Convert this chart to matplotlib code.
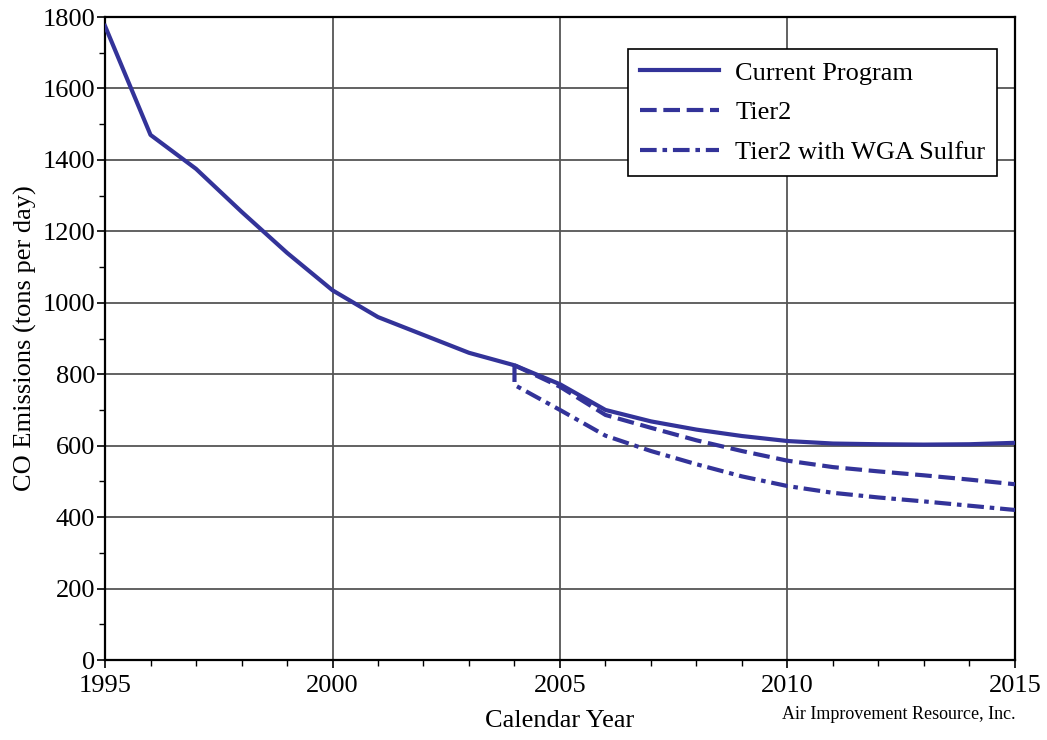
import matplotlib
matplotlib.use("Agg")
import matplotlib.pyplot as plt
from matplotlib.ticker import MultipleLocator

plt.rcParams['font.family'] = ['Liberation Serif', 'DejaVu Serif']

years_current = [1995, 1996, 1997, 1998, 1999, 2000, 2001, 2002, 2003, 2004,
                 2005, 2006, 2007, 2008, 2009, 2010, 2011, 2012, 2013, 2014, 2015]
current = [1775, 1470, 1375, 1255, 1140, 1035, 960, 910, 860, 825,
           772, 700, 668, 645, 627, 613, 606, 604, 603, 604, 608]

years_tier2 = [2004, 2005, 2006, 2007, 2008, 2009, 2010, 2011, 2012, 2013, 2014, 2015]
tier2 = [825, 765, 686, 650, 615, 585, 558, 540, 528, 517, 505, 492]

years_wga = [2004, 2004, 2005, 2006, 2007, 2008, 2009, 2010, 2011, 2012, 2013, 2014, 2015]
wga = [825, 770, 700, 628, 585, 548, 514, 487, 468, 455, 444, 432, 420]

color = '#333399'

fig = plt.figure(figsize=(10.47, 7.40), dpi=100)
ax = fig.add_axes([0.1003, 0.1081, 0.8691, 0.8689])

lw = 3.0
ax.plot(years_current, current, color=color, lw=lw, label='Current Program', zorder=3)
ax.plot(years_tier2, tier2, color=color, lw=lw, linestyle=(0, (4, 1.6)), label='Tier2', zorder=3)
ax.plot(years_wga, wga, color=color, lw=lw, linestyle=(0, (4, 1.4, 1.1, 1.4)), label='Tier2 with WGA Sulfur', zorder=3)

ax.set_xlim(1995, 2015)
ax.set_ylim(0, 1800)
ax.xaxis.set_major_locator(MultipleLocator(5))
ax.xaxis.set_minor_locator(MultipleLocator(1))
ax.yaxis.set_major_locator(MultipleLocator(200))
ax.yaxis.set_minor_locator(MultipleLocator(100))

ax.grid(True, which='major', color='#555555', lw=1.3)
ax.tick_params(which='major', direction='out', length=6, width=1.2, labelsize=19, colors='black')
ax.tick_params(which='minor', direction='out', length=4, width=1.0)
ax.tick_params(axis='x', pad=5)
ax.tick_params(axis='y', pad=1)
for s in ax.spines.values():
    s.set_linewidth(1.6)
    s.set_color('black')

ax.set_xlabel('Calendar Year', fontsize=19, labelpad=9)
ax.set_ylabel('CO Emissions (tons per day)', fontsize=19, labelpad=4)

leg = ax.legend(loc='upper right', bbox_to_anchor=(0.9805, 0.95), fontsize=19,
                frameon=True, fancybox=False, edgecolor='black', framealpha=1,
                handlelength=3.0, handletextpad=0.6, labelspacing=0.62, borderpad=0.45,
                borderaxespad=0)
leg.get_frame().set_linewidth(1.2)

fig.text(0.97, 0.035, 'Air Improvement Resource, Inc.', fontsize=13, ha='right', va='center')

fig.savefig('out.png', dpi=100)
